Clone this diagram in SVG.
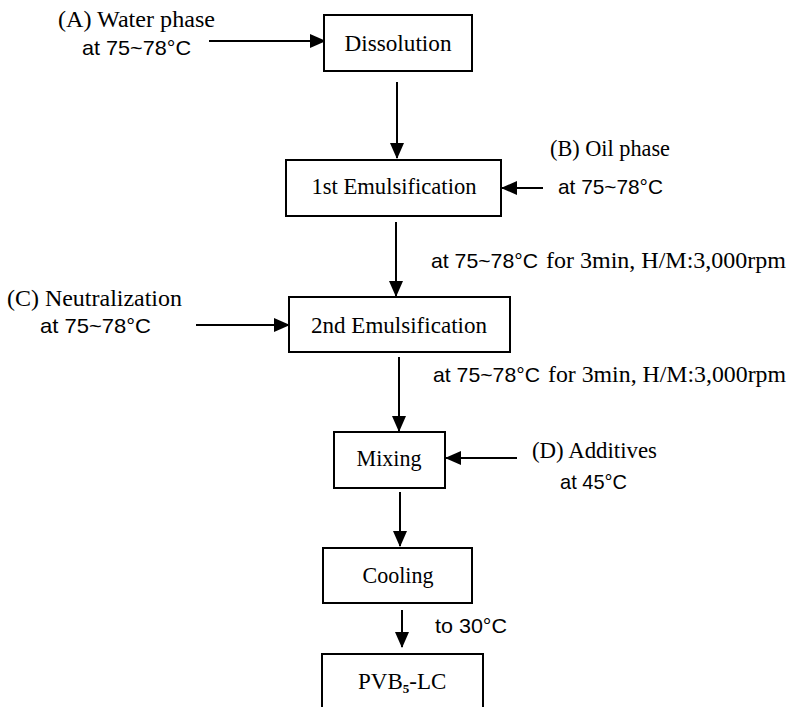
<svg xmlns="http://www.w3.org/2000/svg" width="788" height="707" viewBox="0 0 788 707">
<defs>
<marker id="ah" viewBox="0 0 16 14" refX="15" refY="7" markerWidth="16" markerHeight="14" markerUnits="userSpaceOnUse" orient="auto">
<path d="M0,0 L16,7 L0,14 Z" fill="#000"/>
</marker>
<style>
.box{fill:#fff;stroke:#000;stroke-width:2}
.ser{font-family:"Liberation Serif","DejaVu Serif",serif;font-size:23px;fill:#000}
.san{font-family:"Liberation Sans","DejaVu Sans",sans-serif;font-size:21px;fill:#000}
.lbl{text-anchor:middle}
.con{stroke:#000;stroke-width:2;fill:none;marker-end:url(#ah)}
</style>
</defs>
<rect width="788" height="707" fill="#fff"/>
<g id="connectors">
<line class="con" x1="209" y1="41" x2="325" y2="41"/>
<line class="con" x1="397" y1="82" x2="397" y2="158"/>
<line class="con" x1="543" y1="188" x2="502" y2="188"/>
<line class="con" x1="396" y1="222" x2="396" y2="296"/>
<line class="con" x1="196" y1="325" x2="289" y2="325"/>
<line class="con" x1="399" y1="357" x2="399" y2="431"/>
<line class="con" x1="517" y1="458" x2="446" y2="458"/>
<line class="con" x1="400" y1="492" x2="400" y2="546"/>
<line class="con" x1="402" y1="610" x2="402" y2="647"/>
</g>
<g id="inputA">
<text class="ser" x="58" y="27" textLength="157" lengthAdjust="spacingAndGlyphs">(A) Water phase</text>
<text class="san" x="82" y="55" textLength="109" lengthAdjust="spacingAndGlyphs">at 75~78°C</text>
</g>
<g id="dissolution">
<rect class="box" x="324" y="15" width="148" height="56"/>
<text class="ser lbl" x="398" y="51" textLength="107" lengthAdjust="spacingAndGlyphs">Dissolution</text>
</g>
<g id="emul1">
<rect class="box" x="286" y="160" width="215" height="56"/>
<text class="ser lbl" x="394" y="194" textLength="165" lengthAdjust="spacingAndGlyphs">1st Emulsification</text>
</g>
<g id="inputB">
<text class="ser" x="550" y="156" textLength="120" lengthAdjust="spacingAndGlyphs">(B) Oil phase</text>
<text class="san" x="558" y="194" textLength="105" lengthAdjust="spacingAndGlyphs">at 75~78°C</text>
</g>
<g id="cond1">
<text class="san" x="431" y="268" textLength="107" lengthAdjust="spacingAndGlyphs">at 75~78°C</text>
<text class="ser" x="546" y="268" textLength="240" lengthAdjust="spacingAndGlyphs">for 3min, H/M:3,000rpm</text>
</g>
<g id="inputC">
<text class="ser" x="7" y="306" textLength="175" lengthAdjust="spacingAndGlyphs">(C) Neutralization</text>
<text class="san" x="40" y="333" textLength="111" lengthAdjust="spacingAndGlyphs">at 75~78°C</text>
</g>
<g id="emul2">
<rect class="box" x="289" y="297" width="221" height="55"/>
<text class="ser lbl" x="399" y="333" textLength="176" lengthAdjust="spacingAndGlyphs">2nd Emulsification</text>
</g>
<g id="cond2">
<text class="san" x="433" y="382" textLength="107" lengthAdjust="spacingAndGlyphs">at 75~78°C</text>
<text class="ser" x="548" y="382" textLength="238" lengthAdjust="spacingAndGlyphs">for 3min, H/M:3,000rpm</text>
</g>
<g id="mixing">
<rect class="box" x="334" y="432" width="111" height="56"/>
<text class="ser lbl" x="389" y="466" textLength="65" lengthAdjust="spacingAndGlyphs">Mixing</text>
</g>
<g id="inputD">
<text class="ser" x="532" y="458" textLength="125" lengthAdjust="spacingAndGlyphs">(D) Additives</text>
<text class="san" x="560" y="489" textLength="67" lengthAdjust="spacingAndGlyphs">at 45°C</text>
</g>
<g id="cooling">
<rect class="box" x="323" y="548" width="149" height="55"/>
<text class="ser lbl" x="398" y="583" textLength="71" lengthAdjust="spacingAndGlyphs">Cooling</text>
</g>
<g id="cond3">
<text class="san" x="435" y="633" textLength="72" lengthAdjust="spacingAndGlyphs">to 30°C</text>
</g>
<g id="product">
<rect class="box" x="322" y="654" width="161" height="70"/>
<text class="ser" x="358" y="689">PVB<tspan font-size="13" font-weight="bold" dy="4">5</tspan><tspan dy="-4">-LC</tspan></text>
</g>
</svg>
